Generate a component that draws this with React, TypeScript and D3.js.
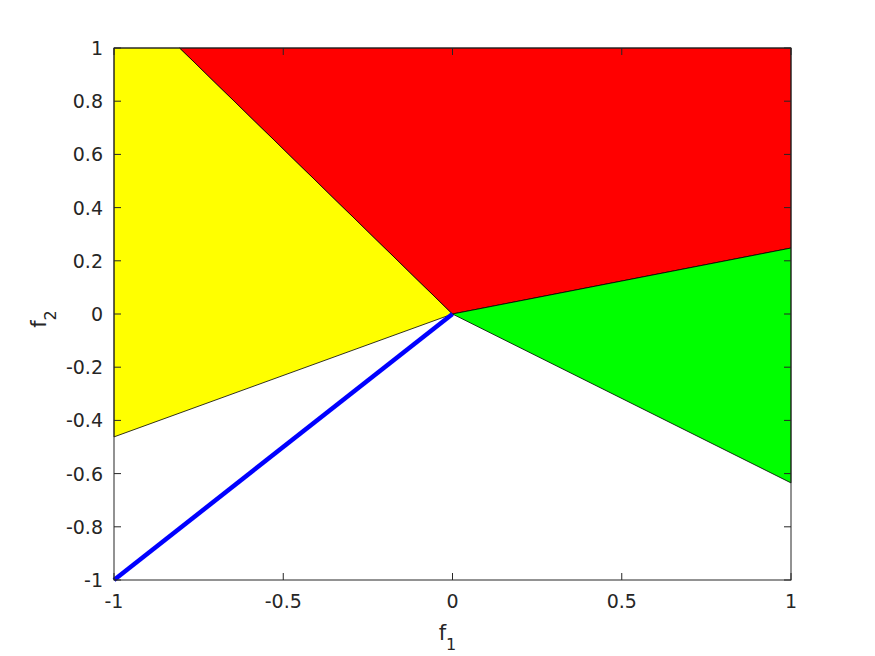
import React from "react";
import * as d3 from "d3";

const xTicks = [-1, -0.5, 0, 0.5, 1];
const yTicks = [-1, -0.8, -0.6, -0.4, -0.2, 0, 0.2, 0.4, 0.6, 0.8, 1];

// regions in the (f1, f2) plane
const yellowRegion: [number, number][] = [[-1, 1], [-0.806, 1], [0, 0], [-1, -0.462]];
const redRegion: [number, number][] = [[-0.806, 1], [1, 1], [1, 0.248], [0, 0]];
const greenRegion: [number, number][] = [[0, 0], [1, 0.248], [1, -0.635]];
const blueSegment: [number, number][] = [[-1, -1], [0, 0]];

const width = 875;
const height = 656;
const margin = { top: 48, right: 84, bottom: 76, left: 114 };

export default function App() {
  const x = d3.scaleLinear().domain([-1, 1]).range([margin.left, width - margin.right]);
  const y = d3.scaleLinear().domain([-1, 1]).range([height - margin.bottom, margin.top]);
  const line = d3.line<[number, number]>().x((d) => x(d[0])).y((d) => y(d[1]));
  const poly = (pts: [number, number][]) => line(pts) + "Z";
  const tick = 7;
  const font = "DejaVu Sans, sans-serif";

  const x0 = x(-1), x1 = x(1), y0 = y(-1), y1 = y(1);

  return (
    <svg width={width} height={height} style={{ position: "absolute", left: 0, top: 0 }}>
      <rect width={width} height={height} fill="#fff" />
      <path d={poly(yellowRegion)} fill="#ffff00" stroke="#000" strokeWidth={0.8} />
      <path d={poly(redRegion)} fill="#ff0000" stroke="#000" strokeWidth={0.8} />
      <path d={poly(greenRegion)} fill="#00ff00" stroke="#000" strokeWidth={0.8} />
      <path d={line(blueSegment)!} fill="none" stroke="#0000ff" strokeWidth={4.5} />

      <rect x={x0} y={y1} width={x1 - x0} height={y0 - y1} fill="none" stroke="#262626" strokeWidth={1} />

      {xTicks.map((t) => (
        <g key={"x" + t}>
          <line x1={x(t)} x2={x(t)} y1={y0} y2={y0 - tick} stroke="#262626" />
          <line x1={x(t)} x2={x(t)} y1={y1} y2={y1 + tick} stroke="#262626" />
          <text x={x(t)} y={y0 + 28} textAnchor="middle" fontFamily={font} fontSize={19} fill="#262626">
            {t}
          </text>
        </g>
      ))}
      {yTicks.map((t) => (
        <g key={"y" + t}>
          <line x1={x0} x2={x0 + tick} y1={y(t)} y2={y(t)} stroke="#262626" />
          <line x1={x1} x2={x1 - tick} y1={y(t)} y2={y(t)} stroke="#262626" />
          <text x={x0 - 11} y={y(t) + 7} textAnchor="end" fontFamily={font} fontSize={19} fill="#262626">
            {Math.round(t * 10) / 10}
          </text>
        </g>
      ))}

      <text x={(x0 + x1) / 2 - 5} y={y0 + 60} textAnchor="middle" fontFamily={font} fontSize={21} fill="#262626">
        f<tspan fontSize={16} dy={10}>1</tspan>
      </text>
      <text
        transform={`translate(46, ${(y0 + y1) / 2 + 5}) rotate(-90)`}
        textAnchor="middle"
        fontFamily={font}
        fontSize={21}
        fill="#262626"
      >
        f<tspan fontSize={16} dy={10}>2</tspan>
      </text>
    </svg>
  );
}
